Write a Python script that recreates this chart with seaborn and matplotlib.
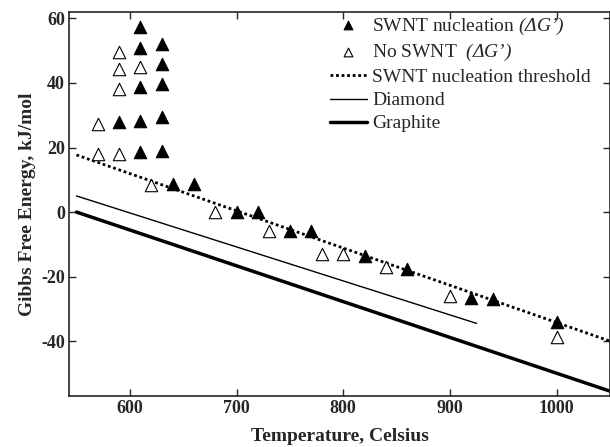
import matplotlib
matplotlib.use("Agg")
import matplotlib.pyplot as plt
import seaborn as sns
import pandas as pd

# data
nucl_temp = [590, 610, 610, 610, 610, 610, 630, 630, 630, 630, 630,
             640, 660, 700, 720, 750, 770, 820, 860, 920, 940, 1000]
nucl_dg = [28.0, 57.2, 50.7, 38.9, 28.3, 18.6, 52.2, 46.0, 39.8, 29.5, 19.0,
           8.7, 8.7, 0.0, 0.0, -5.9, -6.0, -13.7, -17.5, -26.6, -27.0, -34.0]

noswnt_temp = [570, 570, 590, 590, 590, 590, 610, 620, 680, 730, 780, 800, 840, 900, 1000]
noswnt_dg = [27.4, 18.0, 49.7, 44.2, 38.0, 18.0, 45.0, 8.4, 0.0, -5.8, -13.0, -13.0, -17.0, -26.0, -38.6]

threshold_temp = [550, 1050]
threshold_dg = [17.7, -40.0]
diamond_temp = [550, 925]
diamond_dg = [5.0, -34.5]
graphite_temp = [550, 1050]
graphite_dg = [0.0, -55.5]

sns.set_style("ticks")
plt.rcParams['font.family'] = ['Liberation Serif', 'DejaVu Serif']
# math text only used for the italic (ΔG') part of the legend
plt.rcParams['mathtext.fontset'] = 'custom'
plt.rcParams['mathtext.rm'] = 'Liberation Serif:italic'
plt.rcParams['mathtext.it'] = 'Liberation Serif:italic'
plt.rcParams['axes.unicode_minus'] = False

fig = plt.figure(figsize=(6.1, 4.47), dpi=100)
ax = fig.add_axes([69 / 610, 1 - 396 / 447, 1 - 69 / 610, (396 - 12) / 447])

nucl = pd.DataFrame({'T': nucl_temp, 'G': nucl_dg})
noswnt = pd.DataFrame({'T': noswnt_temp, 'G': noswnt_dg})

sns.scatterplot(data=nucl, x='T', y='G', ax=ax, marker='^', s=80, color='black',
                edgecolor='black', linewidth=0.8,
                label=r"SWNT nucleation $\mathrm{(ΔG’)}$", zorder=3)
sns.scatterplot(data=noswnt, x='T', y='G', ax=ax, marker='^', s=80, facecolor='white',
                edgecolor='black', linewidth=0.8,
                label=r"No SWNT  $\mathrm{(ΔG’)}$", zorder=3)
sns.lineplot(x=threshold_temp, y=threshold_dg, ax=ax, color='black', linestyle=(0, (1, 1)),
             linewidth=2, label="SWNT nucleation threshold")
sns.lineplot(x=diamond_temp, y=diamond_dg, ax=ax, color='black', linewidth=1, label="Diamond")
sns.lineplot(x=graphite_temp, y=graphite_dg, ax=ax, color='black', linewidth=2.5, label="Graphite")

ax.set_xlim(543, 1050)
ax.set_ylim(-57, 62)
ax.set_xticks([600, 700, 800, 900, 1000])
ax.set_yticks([-40, -20, 0, 20, 40, 60])
ax.tick_params(direction='in', top=True, right=True, labelsize=13, width=1, length=5, pad=3)
for lab in ax.get_xticklabels() + ax.get_yticklabels():
    lab.set_fontweight('bold')
ax.set_xlabel("Temperature, Celsius", fontsize=14, fontweight='bold', labelpad=8)
ax.set_ylabel("Gibbs Free Energy, kJ/mol", fontsize=14, fontweight='bold', labelpad=4)
for sp in ax.spines.values():
    sp.set_linewidth(1.2)

leg = ax.legend(loc='upper right', bbox_to_anchor=(0.976, 1.006), frameon=False, fontsize=14,
                handlelength=1.9, handletextpad=0.3, labelspacing=0.28, borderaxespad=0.1,
                borderpad=0.2, markerscale=0.7)

fig.savefig("out.png", dpi=100)
